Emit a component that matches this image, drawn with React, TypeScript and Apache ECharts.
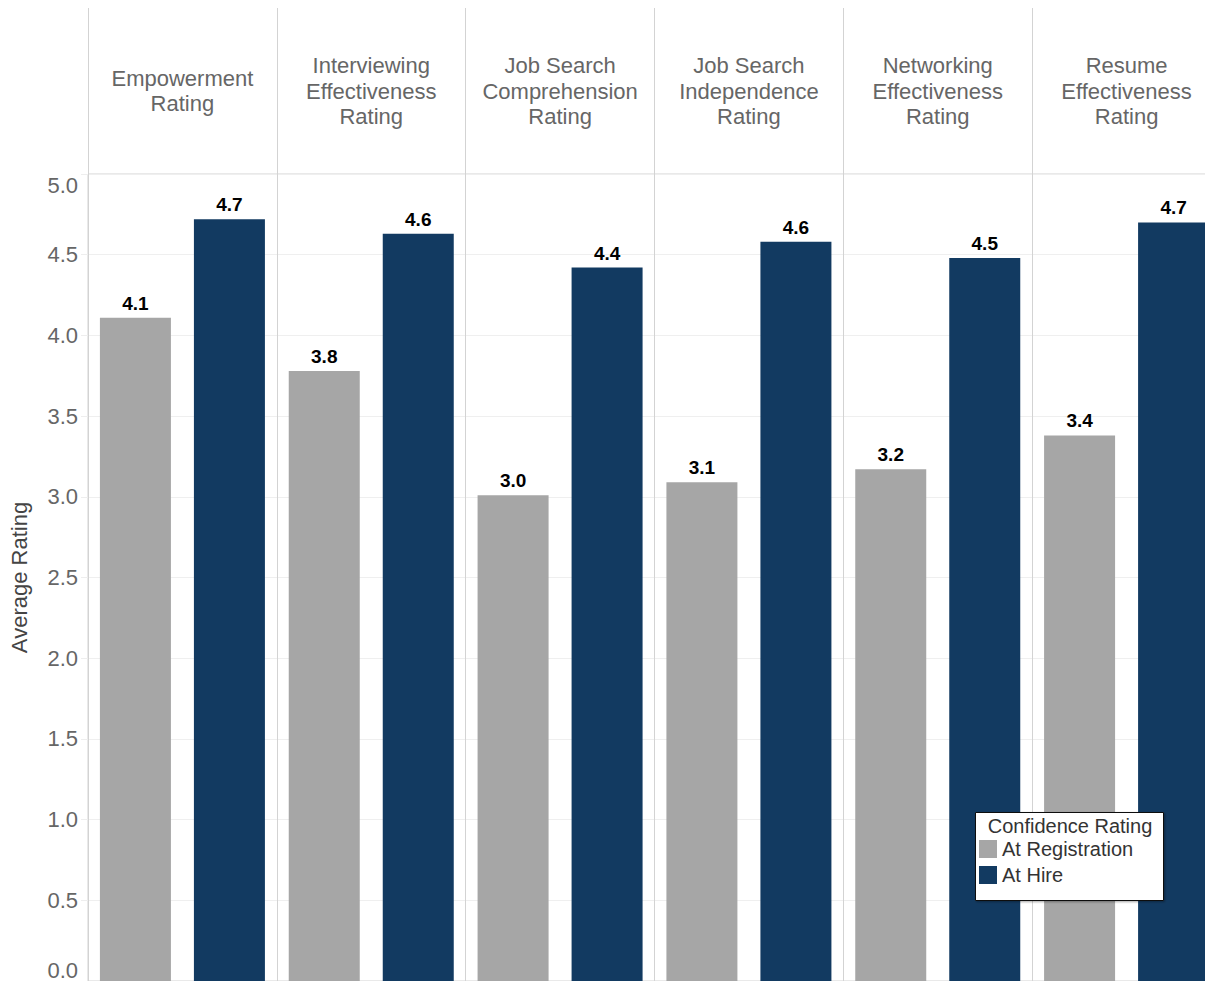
import React, { useEffect, useRef } from "react";
import * as echarts from "echarts";

// Confidence ratings by skill area
const categories = [
  "Empowerment\nRating",
  "Interviewing\nEffectiveness\nRating",
  "Job Search\nComprehension\nRating",
  "Job Search\nIndependence\nRating",
  "Networking\nEffectiveness\nRating",
  "Resume\nEffectiveness\nRating",
];
const atRegistration = [4.11, 3.78, 3.01, 3.09, 3.17, 3.38];
const atHire = [4.72, 4.63, 4.42, 4.58, 4.48, 4.70];
const yTicks = [0, 0.5, 1, 1.5, 2, 2.5, 3, 3.5, 4, 4.5, 5];

const FONT = "'Liberation Sans', Arial, Helvetica, sans-serif";
const GRAY = "#a6a6a6";
const NAVY = "#123a61";
const RULE = "#d3d3d3";
const HEADER_TOP = 8;

// Snap a 1px vertical line onto the pixel grid the same way the axis does.
function crisp(x: number) {
  const d = Math.round(x * 2);
  return d % 2 === 1 ? d / 2 : (d + 1) / 2;
}

export default function App() {
  const ref = useRef<HTMLDivElement>(null);

  useEffect(() => {
    if (!ref.current) return;
    const chart = echarts.init(ref.current, undefined, { renderer: "svg" });

    const valueLabel = {
      show: true,
      position: "top",
      distance: 5,
      fontFamily: FONT,
      fontSize: 19,
      fontWeight: "bold",
      color: "#000",
      formatter: (p: any) => Number(p.value).toFixed(1),
    };

    const gridTop = 174;

    chart.setOption({
      animation: false,
      textStyle: { fontFamily: FONT },
      grid: {
        left: 88,
        right: 9,
        top: gridTop,
        bottom: 1,
        show: true,
        borderColor: RULE,
        borderWidth: 1,
      },
      legend: {
        orient: "vertical",
        left: 979,
        top: 839,
        z: 10,
        itemWidth: 18,
        itemHeight: 18,
        itemGap: 6,
        icon: "rect",
        padding: 0,
        textStyle: { fontFamily: FONT, fontSize: 20, color: "#333" },
        data: ["At Registration", "At Hire"],
      },
      xAxis: {
        type: "category",
        position: "top",
        data: categories,
        axisLine: { show: true, lineStyle: { color: RULE } },
        axisTick: { show: false },
        axisLabel: {
          margin: 83,
          verticalAlign: "middle",
          fontFamily: FONT,
          fontSize: 22,
          lineHeight: 25.5,
          color: "#666",
          interval: 0,
        },
        splitLine: { show: true, lineStyle: { color: RULE } },
      },
      yAxis: {
        type: "value",
        min: 0,
        max: 5,
        interval: 0.5,
        name: "Average Rating",
        nameLocation: "middle",
        nameGap: 58,
        nameTextStyle: { fontFamily: FONT, fontSize: 22, color: "#444" },
        axisLine: { show: true, lineStyle: { color: RULE } },
        axisTick: { show: true, length: 7, lineStyle: { color: "#eeeeee" } },
        axisLabel: {
          margin: 10,
          fontFamily: FONT,
          fontSize: 22,
          color: "#666",
          verticalAlignMinLabel: "bottom",
          verticalAlignMaxLabel: "top",
          formatter: (v: number) =>
            yTicks.indexOf(v) >= 0 ? v.toFixed(1) : "",
        },
        splitLine: { show: true, lineStyle: { color: "#efefef" } },
      },
      series: [
        {
          name: "At Registration",
          type: "bar",
          data: atRegistration,
          barWidth: 71,
          barGap: "32.4%",
          itemStyle: { color: GRAY },
          label: valueLabel,
        },
        {
          name: "At Hire",
          type: "bar",
          data: atHire,
          barWidth: 71,
          barGap: "32.4%",
          itemStyle: { color: NAVY },
          label: valueLabel,
        },
      ],
    });

    // Panel dividers running up through the header band, placed at the
    // category band boundaries of the x axis.
    const c0 = chart.convertToPixel({ xAxisIndex: 0 }, 0) as number;
    const c1 = chart.convertToPixel({ xAxisIndex: 0 }, 1) as number;
    const band = c1 - c0;
    const dividers = [];
    for (let i = 0; i <= categories.length; i++) {
      const x = crisp(c0 - band / 2 + i * band);
      dividers.push({
        type: "line",
        z: 1,
        silent: true,
        shape: { x1: x, y1: HEADER_TOP, x2: x, y2: gridTop },
        style: { stroke: RULE, lineWidth: 1 },
      });
    }

    chart.setOption({
      graphic: [
        ...dividers,
        {
          type: "rect",
          z: 8,
          shape: { x: 975.5, y: 812.5, width: 188, height: 88 },
          style: {
            fill: "#fff",
            stroke: "#111",
            lineWidth: 1,
            shadowBlur: 2,
            shadowOffsetX: 1,
            shadowOffsetY: 1,
            shadowColor: "rgba(0,0,0,0.35)",
          },
        },
        {
          type: "text",
          z: 10,
          x: 1070,
          y: 826,
          style: {
            text: "Confidence Rating",
            fontFamily: FONT,
            fontSize: 20,
            fill: "#333",
            align: "center",
            verticalAlign: "middle",
          },
        },
      ],
    });

    return () => chart.dispose();
  }, []);

  return (
    <div
      ref={ref}
      style={{ position: "absolute", left: 0, top: 0, width: 1230, height: 982 }}
    />
  );
}
